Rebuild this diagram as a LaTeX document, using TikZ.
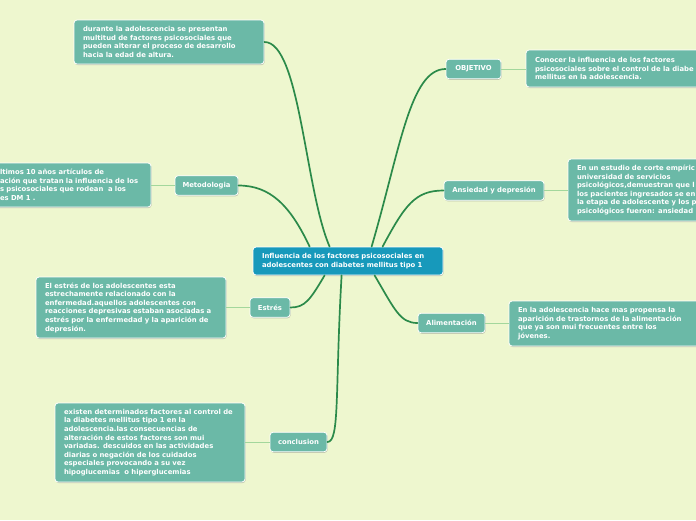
\documentclass[tikz,border=0pt]{standalone}
\usepackage{fontspec}
\setmainfont{DejaVu Sans}
\usetikzlibrary{shadows,calc}
\definecolor{bgc}{HTML}{EEF7CF}
\definecolor{tealc}{HTML}{6BB9A7}
\definecolor{centc}{HTML}{1799BB}
\definecolor{darkg}{HTML}{2B8A4A}
\definecolor{lightg}{HTML}{A3D79C}
\newcommand{\bfnt}{\bfseries\fontsize{6.85}{8.6}\selectfont}
\tikzset{
  boxbase/.style={draw=white, line width=0.8pt, rounded corners=3pt, text=white,
    font=\bfnt, drop shadow={shadow xshift=0.6pt, shadow yshift=-1pt, opacity=0.35, fill=black!60}},
  subnode/.style={boxbase, fill=tealc, align=center, inner sep=0pt, minimum height=19.5pt},
  notebox/.style={boxbase, fill=tealc, align=left, inner xsep=9pt, inner ysep=0pt},
  centbox/.style={boxbase, fill=centc, align=left, inner xsep=9pt, inner ysep=0pt},
  mainlink/.style={draw=darkg, line width=1.7pt, line cap=round},
  sublink/.style={draw=lightg, line width=1pt}
}
\begin{document}
\begin{tikzpicture}[x=1pt,y=-1pt]
\fill[bgc] (0,0) rectangle (696,520);
\useasboundingbox (0,0) rectangle (696,520);
\clip (0,0) rectangle (696,520);

% central
\node[centbox, text width=172pt, minimum height=28pt] (c) at (348,261)
  {Influencia de los factores psicosociales en\\adolescentes con diabetes mellitus tipo 1};

% sub nodes
\node[subnode, minimum width=55pt] (obj) at (473.5,69) {OBJETIVO};
\node[subnode, minimum width=100pt] (ans) at (494,190.5) {Ansiedad y depresión};
\node[subnode, minimum width=63pt] (met) at (206.5,185.5) {Metodologia};
\node[subnode, minimum width=40pt] (est) at (270,307.5) {Estrés};
\node[subnode, minimum width=67pt] (ali) at (451.5,323) {Alimentación};
\node[subnode, minimum width=57pt] (con) at (298.5,442) {conclusion};

% notes
\node[notebox, text width=172pt, minimum height=44pt] (dur) at (169,42)
  {durante la adolescencia se presentan\\multitud de factores psicosociales que\\pueden alterar el proceso de desarrollo\\hacia la edad de altura.};
\node[notebox, text width=142pt, minimum height=44pt] (metn) at (71,185)
  {ltimos 10 años artículos de\\ación que tratan la influencia de los\\s psicosociales que rodean\ \ a los\\es DM 1 .};
\node[notebox, text width=172pt, minimum height=61pt] (estn) at (131,307.5)
  {El estrés de los adolescentes esta\\estrechamente relacionado con la\\enfermedad.aquellos adolescentes con\\reacciones depresivas estaban asociadas a\\estrés por la enfermedad y la aparición de\\depresión.};
\node[notebox, text width=172pt, minimum height=79pt] (conn) at (150,442.5)
  {existen determinados factores al control de\\la diabetes mellitus tipo 1 en la\\adolescencia.las consecuencias de\\alteración de estos factores son mui\\variadas. descuidos en las actividades\\diarias o negación de los cuidados\\especiales provocando a su vez\\hipoglucemias\ \ o hiperglucemias};
\node[notebox, text width=202pt, minimum height=37pt] (objn) at (636,68.5)
  {Conocer la influencia de los factores\\psicosociales sobre el control de la diabe\\mellitus en la adolescencia.};
\node[notebox, text width=174pt, minimum height=62pt] (ansn) at (664,190)
  {En un estudio de corte empíric\\universidad de servicios\\psicológicos,demuestran que l\\los pacientes ingresados se en\\la etapa de adolescente y los p\\psicológicos fueron: ansiedad};
\node[notebox, text width=174pt, minimum height=45pt] (alin) at (605,323.5)
  {En la adolescencia hace mas propensa la\\aparición de trastornos de la alimentación\\que ya son mui frecuentes entre los\\jóvenes.};

% main links
\draw[mainlink] ([xshift=77pt]c.north west) .. controls (305,190) and (300,42) .. (dur.east);
\draw[mainlink] ([xshift=57pt]c.north west) .. controls (290,205) and (270,185.5) .. (met.east);
\draw[mainlink] ([xshift=119pt]c.north west) .. controls (400,150) and (410,69) .. (obj.west);
\draw[mainlink] ([xshift=130pt]c.north west) .. controls (405,205) and (415,190.5) .. (ans.west);
\draw[mainlink] ([xshift=72pt]c.south west) .. controls (310,300) and (305,307.5) .. (est.east);
\draw[mainlink] ([xshift=122pt]c.south west) .. controls (395,310) and (400,323) .. (ali.west);
\draw[mainlink] ([xshift=89pt]c.south west) .. controls (335,390) and (340,442) .. (con.east);

% sub links
\draw[sublink] (obj.east) -- (objn.west |- obj.east);
\draw[sublink] (ans.east) -- (ansn.west |- ans.east);
\draw[sublink] (met.west) -- (metn.east |- met.west);
\draw[sublink] (est.west) -- (estn.east |- est.west);
\draw[sublink] (ali.east) -- (alin.west |- ali.east);
\draw[sublink] (con.west) -- (conn.east |- con.west);
\end{tikzpicture}
\end{document}
